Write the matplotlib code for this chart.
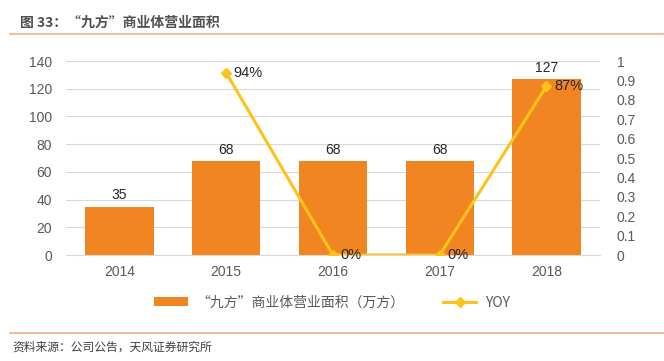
import matplotlib.pyplot as plt
import numpy as np

plt.rcParams['font.family'] = ['Liberation Sans', 'Noto Sans CJK SC', 'DejaVu Sans']

years = ['2014', '2015', '2016', '2017', '2018']
area = [35, 68, 68, 68, 127]
yoy = [None, 0.94, 0.0, 0.0, 0.87]
yoy_labels = ['', '94%', '0%', '0%', '87%']

bar_color = '#F08522'
line_color = '#FFC21A'
grid_color = '#D9D9D9'
text_color = '#595959'

fig = plt.figure(figsize=(6.64, 3.61), dpi=100)

# title and rules
fig.text(0.030, 0.936, '图 33：“九方”商业体营业面积', fontsize=10, color='#505050',
         fontweight='bold', va='center', family=['Noto Sans CJK SC', 'DejaVu Sans'])
fig.add_artist(plt.Line2D([0.015, 1.0], [0.906, 0.906], color='#F4B183', lw=1.2))
fig.add_artist(plt.Line2D([0.015, 1.0], [0.078, 0.078], color='#F4B183', lw=1.2))
fig.text(0.018, 0.038, '资料来源：公司公告，天风证券研究所', fontsize=8.5, color='#404040',
         va='center', family=['Noto Sans CJK SC', 'DejaVu Sans'])

ax = fig.add_axes([0.0994, 0.2936, 0.804, 0.5374])
x = np.arange(len(years))
bars = ax.bar(x, area, width=0.64, color=bar_color, zorder=2, label='“九方”商业体营业面积（万方）')
ax.set_ylim(0, 140)
ax.set_yticks(range(0, 141, 20))
ax.set_xlim(-0.5, len(years) - 0.5)
ax.set_xticks(x)
ax.set_xticklabels(years)
ax.grid(axis='y', color=grid_color, lw=0.8, zorder=0)
for s in ax.spines.values():
    s.set_visible(False)
ax.spines['bottom'].set_visible(True)
ax.spines['bottom'].set_color(grid_color)
ax.tick_params(length=0, colors=text_color, labelsize=10)
ax.tick_params(axis='y', pad=10)
ax.tick_params(axis='x', pad=7)
for xi, v in zip(x, area):
    ax.text(xi, v + 3, str(v), ha='center', va='bottom', fontsize=10, color='#262626')

ax2 = ax.twinx()
xs = [xi for xi, v in zip(x, yoy) if v is not None]
ys = [v for v in yoy if v is not None]
ax2.plot(xs, ys, color=line_color, lw=2.2, marker='D', markersize=5, zorder=3, label='YOY')
ax2.set_ylim(0, 1)
ax2.set_yticks(np.arange(0, 1.01, 0.1))
ax2.set_yticklabels(['0', '0.1', '0.2', '0.3', '0.4', '0.5', '0.6', '0.7', '0.8', '0.9', '1'])
ax2.tick_params(length=0, colors=text_color, labelsize=10, pad=12)
for s in ax2.spines.values():
    s.set_visible(False)
for xi, v, lab in zip(x, yoy, yoy_labels):
    if v is not None:
        ax2.text(xi + 0.07, v, lab, ha='left', va='center', fontsize=10.5, color='#262626')

h1, l1 = ax.get_legend_handles_labels()
h2, l2 = ax2.get_legend_handles_labels()
fig.legend(h1 + h2, l1 + l2, loc='center', bbox_to_anchor=(0.5, 0.162), ncol=2,
           frameon=False, labelcolor=text_color, handlelength=2.4, handletextpad=0.6,
           columnspacing=2.8, handleheight=0.6,
           prop={'family': ['Noto Sans CJK SC', 'DejaVu Sans'], 'size': 10})

fig.savefig('out.png', dpi=100)
